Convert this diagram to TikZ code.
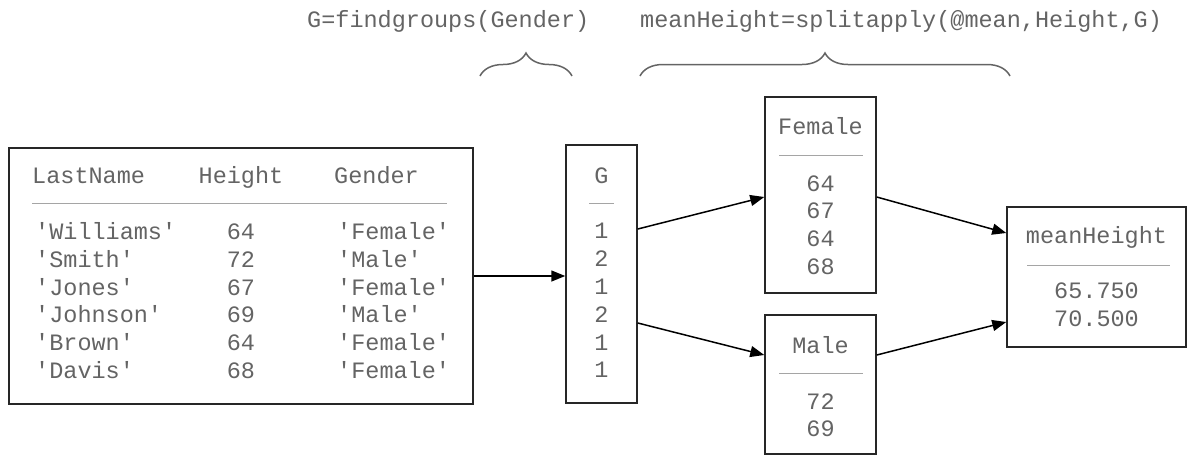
\documentclass[tikz,border=0pt]{standalone}
\usepackage{fontspec}
\setmonofont{Liberation Mono}
\usetikzlibrary{arrows.meta,decorations.pathreplacing}
\definecolor{txtgray}{RGB}{100,100,100}
\definecolor{rulegray}{RGB}{165,165,165}
\newcommand{\cd}[1]{\texttt{#1}}

\begin{document}
\begin{tikzpicture}[x=1pt, y=-1pt,
  box/.style={draw=black!85, line width=1.5pt, inner sep=0pt, minimum width=#1},
  txt/.style={text=txtgray, font=\fontsize{23.5}{26}\selectfont\ttfamily, inner sep=0pt},
  cell/.style={txt, yshift=-5pt},
  sep/.style={draw=rulegray, line width=1pt},
  flow/.style={draw=black, line width=1.5pt, -{Triangle[length=14pt, width=11pt]}},
  grp/.style={draw=txtgray, line width=1.5pt, decorate, decoration={brace, amplitude=23pt}}]
  \useasboundingbox (0,0) rectangle (1187,456);

  % boxes
  \node[box=464pt, minimum height=256pt] (tbl) at (241,276) {};
  \node[box=71pt, minimum height=258pt] (gcol) at (601.5,274) {};
  \node[box=111pt, minimum height=196pt] (female) at (820.5,195) {};
  \node[box=111pt, minimum height=139pt] (male) at (820.5,384.5) {};
  \node[box=179pt, minimum height=140pt] (meanh) at (1096.5,277) {};

  % table
  \node[cell, anchor=mid west] (hname) at (32,176) {LastName};
  \node[cell, anchor=mid] (hheight) at (241,176) {Height};
  \node[cell, anchor=mid west] (hgender) at (334,176) {Gender};
  \draw[sep] (32,203) -- (447,203);
  \foreach \nm/\ht/\gd [count=\i] in {Williams/64/Female, Smith/72/Male,
      Jones/67/Female, Johnson/69/Male, Brown/64/Female, Davis/68/Female} {
    \node[cell, anchor=mid west] (nm\i) at (35,{204.5+27.8*\i}) {\cd{'\nm'}};
    \node[cell, anchor=mid] (ht\i) at (241,{204.5+27.8*\i}) {\ht};
    \node[cell, anchor=mid west] (gd\i) at (337,{204.5+27.8*\i}) {\cd{'\gd'}};
  }

  % group numbers
  \node[cell, anchor=mid] (ghead) at (601.5,176.5) {G};
  \draw[sep] (589,203) -- (614,203);
  \foreach \g [count=\i] in {1,2,1,2,1,1} {
    \node[cell, anchor=mid] (g\i) at (601.5,{204+27.8*\i}) {\g};
  }

  % split groups
  \node[cell, anchor=mid] (fhead) at (820.5,127) {Female};
  \draw[sep] (779,155) -- (863,155);
  \foreach \v [count=\i] in {64,67,64,68} {
    \node[cell, anchor=mid] (f\i) at (820.5,{156.3+27.7*\i}) {\v};
  }
  \node[cell, anchor=mid] (mhead) at (820.5,346) {Male};
  \draw[sep] (779,373) -- (863,373);
  \foreach \v [count=\i] in {72,69} {
    \node[cell, anchor=mid] (m\i) at (820.5,{374.5+27.5*\i}) {\v};
  }

  % result
  \node[cell, anchor=mid] (rhead) at (1096.5,236) {meanHeight};
  \draw[sep] (1027,265) -- (1170,265);
  \node[cell, anchor=mid] (r1) at (1096.5,291) {65.750};
  \node[cell, anchor=mid] (r2) at (1096.5,319.5) {70.500};

  % arrows
  \draw[flow] (tbl.east) -- (tbl.east -| gcol.west);
  \draw[flow] ([yshift=45pt]gcol.east) -- ([yshift=-2pt]female.west);
  \draw[flow] ([yshift=-49pt]gcol.east) -- ([yshift=29.5pt]male.west);
  \draw[flow] ([yshift=-2pt]female.east) -- ([yshift=44pt]meanh.west);
  \draw[flow] ([yshift=29.5pt]male.east) -- ([yshift=-45pt]meanh.west);

  % calls and braces
  \node[txt, anchor=base west] (call1) at (307,27) {G=findgroups(Gender)};
  \node[txt, anchor=base west] (call2) at (640,27) {meanHeight=splitapply(@mean,Height,G)};
  \draw[grp] (480,76) -- (572,76);
  \draw[grp] (640,76) -- (1010,76);
\end{tikzpicture}
\end{document}
